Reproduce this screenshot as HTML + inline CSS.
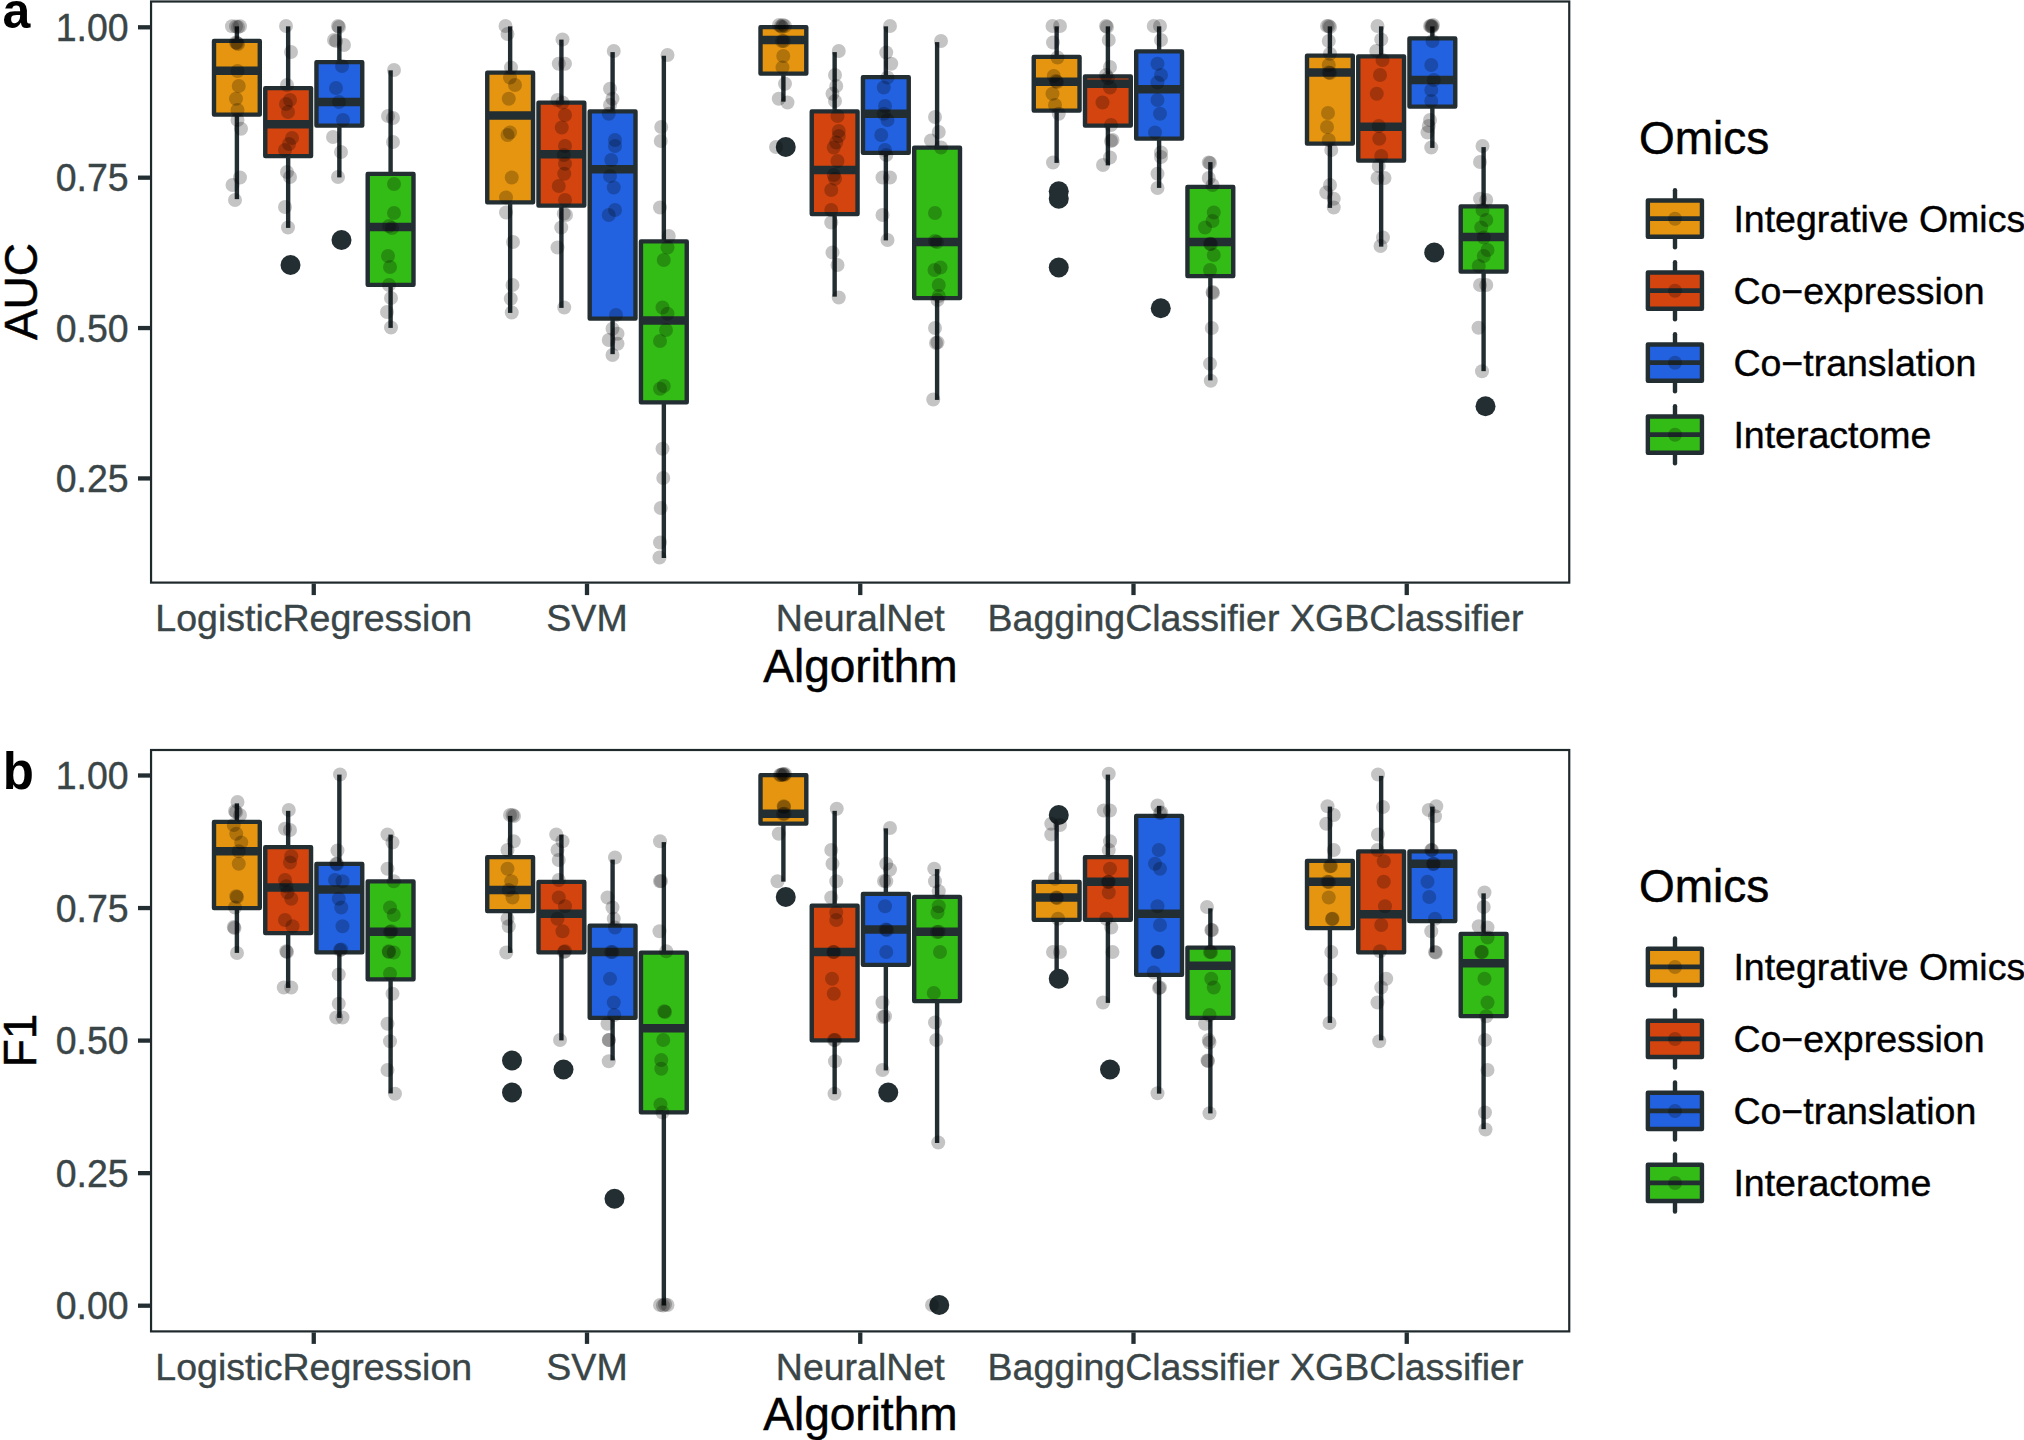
<!DOCTYPE html>
<html lang="en"><head><meta charset="utf-8"><title>Figure</title>
<style>
html,body{margin:0;padding:0;background:#fff;}
svg{display:block;}
text{font-family:"Liberation Sans",Arial,Helvetica,sans-serif;}
.tk{font-size:37.5px;fill:#3a4547;stroke:#3a4547;stroke-width:0.4px;}
.ti{font-size:46px;fill:#000;stroke:#000;stroke-width:0.5px;}
.lg{font-size:37.5px;fill:#000;stroke:#000;stroke-width:0.4px;}
.tag{font-size:51px;font-weight:bold;fill:#000;}
</style></head><body>
<svg width="2024" height="1440" viewBox="0 0 2024 1440">
<rect width="2024" height="1440" fill="#fff"/>

<line x1="236.9" y1="26.35" x2="236.9" y2="40.9" stroke="#232E32" stroke-width="4.4"/>
<line x1="236.9" y1="114.6" x2="236.9" y2="199.15" stroke="#232E32" stroke-width="4.4"/>
<rect x="214" y="40.9" width="45.8" height="73.7" fill="#E5950F" stroke="#232E32" stroke-width="4.4" stroke-linejoin="round"/>
<line x1="214" y1="70.75" x2="259.8" y2="70.75" stroke="#232E32" stroke-width="8.4"/>
<circle cx="290.5" cy="265" r="10" fill="#232E32"/>
<line x1="288.15" y1="26.35" x2="288.15" y2="88.15" stroke="#232E32" stroke-width="4.4"/>
<line x1="288.15" y1="156.1" x2="288.15" y2="227.9" stroke="#232E32" stroke-width="4.4"/>
<rect x="265.25" y="88.15" width="45.8" height="67.95" fill="#D3440F" stroke="#232E32" stroke-width="4.4" stroke-linejoin="round"/>
<line x1="265.25" y1="124.25" x2="311.05" y2="124.25" stroke="#232E32" stroke-width="8.4"/>
<circle cx="341.5" cy="240" r="10" fill="#232E32"/>
<line x1="339.35" y1="26.35" x2="339.35" y2="62.15" stroke="#232E32" stroke-width="4.4"/>
<line x1="339.35" y1="125.6" x2="339.35" y2="177.4" stroke="#232E32" stroke-width="4.4"/>
<rect x="316.45" y="62.15" width="45.8" height="63.45" fill="#2262E0" stroke="#232E32" stroke-width="4.4" stroke-linejoin="round"/>
<line x1="316.45" y1="102" x2="362.25" y2="102" stroke="#232E32" stroke-width="8.4"/>
<line x1="390.6" y1="70.35" x2="390.6" y2="173.9" stroke="#232E32" stroke-width="4.4"/>
<line x1="390.6" y1="284.85" x2="390.6" y2="327.9" stroke="#232E32" stroke-width="4.4"/>
<rect x="367.7" y="173.9" width="45.8" height="110.95" fill="#33BB16" stroke="#232E32" stroke-width="4.4" stroke-linejoin="round"/>
<line x1="367.7" y1="227" x2="413.5" y2="227" stroke="#232E32" stroke-width="8.4"/>
<line x1="510.15" y1="26.35" x2="510.15" y2="72.65" stroke="#232E32" stroke-width="4.4"/>
<line x1="510.15" y1="202.35" x2="510.15" y2="312.9" stroke="#232E32" stroke-width="4.4"/>
<rect x="487.25" y="72.65" width="45.8" height="129.7" fill="#E5950F" stroke="#232E32" stroke-width="4.4" stroke-linejoin="round"/>
<line x1="487.25" y1="115.5" x2="533.05" y2="115.5" stroke="#232E32" stroke-width="8.4"/>
<line x1="561.4" y1="39.6" x2="561.4" y2="102.65" stroke="#232E32" stroke-width="4.4"/>
<line x1="561.4" y1="205.6" x2="561.4" y2="307.9" stroke="#232E32" stroke-width="4.4"/>
<rect x="538.5" y="102.65" width="45.8" height="102.95" fill="#D3440F" stroke="#232E32" stroke-width="4.4" stroke-linejoin="round"/>
<line x1="538.5" y1="154.25" x2="584.3" y2="154.25" stroke="#232E32" stroke-width="8.4"/>
<line x1="612.6" y1="52.1" x2="612.6" y2="111.4" stroke="#232E32" stroke-width="4.4"/>
<line x1="612.6" y1="318.6" x2="612.6" y2="354.15" stroke="#232E32" stroke-width="4.4"/>
<rect x="589.7" y="111.4" width="45.8" height="207.2" fill="#2262E0" stroke="#232E32" stroke-width="4.4" stroke-linejoin="round"/>
<line x1="589.7" y1="169.25" x2="635.5" y2="169.25" stroke="#232E32" stroke-width="8.4"/>
<line x1="663.85" y1="55.85" x2="663.85" y2="241.4" stroke="#232E32" stroke-width="4.4"/>
<line x1="663.85" y1="402.35" x2="663.85" y2="557.9" stroke="#232E32" stroke-width="4.4"/>
<rect x="640.95" y="241.4" width="45.8" height="160.95" fill="#33BB16" stroke="#232E32" stroke-width="4.4" stroke-linejoin="round"/>
<line x1="640.95" y1="320.5" x2="686.75" y2="320.5" stroke="#232E32" stroke-width="8.4"/>
<circle cx="785.75" cy="147" r="10" fill="#232E32"/>
<line x1="783.4" y1="25.75" x2="783.4" y2="27.15" stroke="#232E32" stroke-width="4.4"/>
<line x1="783.4" y1="73.6" x2="783.4" y2="101.65" stroke="#232E32" stroke-width="4.4"/>
<rect x="760.5" y="27.15" width="45.8" height="46.45" fill="#E5950F" stroke="#232E32" stroke-width="4.4" stroke-linejoin="round"/>
<line x1="760.5" y1="40" x2="806.3" y2="40" stroke="#232E32" stroke-width="8.4"/>
<line x1="834.65" y1="52.1" x2="834.65" y2="111.4" stroke="#232E32" stroke-width="4.4"/>
<line x1="834.65" y1="214.1" x2="834.65" y2="296.65" stroke="#232E32" stroke-width="4.4"/>
<rect x="811.75" y="111.4" width="45.8" height="102.7" fill="#D3440F" stroke="#232E32" stroke-width="4.4" stroke-linejoin="round"/>
<line x1="811.75" y1="170" x2="857.55" y2="170" stroke="#232E32" stroke-width="8.4"/>
<line x1="885.85" y1="26.35" x2="885.85" y2="77.15" stroke="#232E32" stroke-width="4.4"/>
<line x1="885.85" y1="152.85" x2="885.85" y2="240.4" stroke="#232E32" stroke-width="4.4"/>
<rect x="862.95" y="77.15" width="45.8" height="75.7" fill="#2262E0" stroke="#232E32" stroke-width="4.4" stroke-linejoin="round"/>
<line x1="862.95" y1="113.75" x2="908.75" y2="113.75" stroke="#232E32" stroke-width="8.4"/>
<line x1="937.1" y1="42.1" x2="937.1" y2="147.65" stroke="#232E32" stroke-width="4.4"/>
<line x1="937.1" y1="298.1" x2="937.1" y2="399.9" stroke="#232E32" stroke-width="4.4"/>
<rect x="914.2" y="147.65" width="45.8" height="150.45" fill="#33BB16" stroke="#232E32" stroke-width="4.4" stroke-linejoin="round"/>
<line x1="914.2" y1="242" x2="960" y2="242" stroke="#232E32" stroke-width="8.4"/>
<circle cx="1058.75" cy="191.25" r="10" fill="#232E32"/>
<circle cx="1058.75" cy="198.75" r="10" fill="#232E32"/>
<circle cx="1058.75" cy="267.5" r="10" fill="#232E32"/>
<line x1="1056.65" y1="26.35" x2="1056.65" y2="56.9" stroke="#232E32" stroke-width="4.4"/>
<line x1="1056.65" y1="110.6" x2="1056.65" y2="162.9" stroke="#232E32" stroke-width="4.4"/>
<rect x="1033.75" y="56.9" width="45.8" height="53.7" fill="#E5950F" stroke="#232E32" stroke-width="4.4" stroke-linejoin="round"/>
<line x1="1033.75" y1="81.75" x2="1079.55" y2="81.75" stroke="#232E32" stroke-width="8.4"/>
<line x1="1107.9" y1="26.35" x2="1107.9" y2="76.4" stroke="#232E32" stroke-width="4.4"/>
<line x1="1107.9" y1="125.6" x2="1107.9" y2="165.4" stroke="#232E32" stroke-width="4.4"/>
<rect x="1085" y="76.4" width="45.8" height="49.2" fill="#D3440F" stroke="#232E32" stroke-width="4.4" stroke-linejoin="round"/>
<line x1="1085" y1="83.75" x2="1130.8" y2="83.75" stroke="#232E32" stroke-width="8.4"/>
<circle cx="1160.75" cy="308.25" r="10" fill="#232E32"/>
<line x1="1159.1" y1="26.35" x2="1159.1" y2="51.4" stroke="#232E32" stroke-width="4.4"/>
<line x1="1159.1" y1="138.6" x2="1159.1" y2="187.9" stroke="#232E32" stroke-width="4.4"/>
<rect x="1136.2" y="51.4" width="45.8" height="87.2" fill="#2262E0" stroke="#232E32" stroke-width="4.4" stroke-linejoin="round"/>
<line x1="1136.2" y1="89.25" x2="1182" y2="89.25" stroke="#232E32" stroke-width="8.4"/>
<line x1="1210.35" y1="162.1" x2="1210.35" y2="186.9" stroke="#232E32" stroke-width="4.4"/>
<line x1="1210.35" y1="276.1" x2="1210.35" y2="380.4" stroke="#232E32" stroke-width="4.4"/>
<rect x="1187.45" y="186.9" width="45.8" height="89.2" fill="#33BB16" stroke="#232E32" stroke-width="4.4" stroke-linejoin="round"/>
<line x1="1187.45" y1="242" x2="1233.25" y2="242" stroke="#232E32" stroke-width="8.4"/>
<line x1="1329.9" y1="26.35" x2="1329.9" y2="55.65" stroke="#232E32" stroke-width="4.4"/>
<line x1="1329.9" y1="143.6" x2="1329.9" y2="207.9" stroke="#232E32" stroke-width="4.4"/>
<rect x="1307" y="55.65" width="45.8" height="87.95" fill="#E5950F" stroke="#232E32" stroke-width="4.4" stroke-linejoin="round"/>
<line x1="1307" y1="72.5" x2="1352.8" y2="72.5" stroke="#232E32" stroke-width="8.4"/>
<line x1="1381.15" y1="26.35" x2="1381.15" y2="56.4" stroke="#232E32" stroke-width="4.4"/>
<line x1="1381.15" y1="160.6" x2="1381.15" y2="246.65" stroke="#232E32" stroke-width="4.4"/>
<rect x="1358.25" y="56.4" width="45.8" height="104.2" fill="#D3440F" stroke="#232E32" stroke-width="4.4" stroke-linejoin="round"/>
<line x1="1358.25" y1="126.75" x2="1404.05" y2="126.75" stroke="#232E32" stroke-width="8.4"/>
<circle cx="1434.25" cy="252.5" r="10" fill="#232E32"/>
<line x1="1432.35" y1="26.35" x2="1432.35" y2="38.4" stroke="#232E32" stroke-width="4.4"/>
<line x1="1432.35" y1="106.6" x2="1432.35" y2="147.9" stroke="#232E32" stroke-width="4.4"/>
<rect x="1409.45" y="38.4" width="45.8" height="68.2" fill="#2262E0" stroke="#232E32" stroke-width="4.4" stroke-linejoin="round"/>
<line x1="1409.45" y1="80" x2="1455.25" y2="80" stroke="#232E32" stroke-width="8.4"/>
<circle cx="1485.5" cy="406.25" r="10" fill="#232E32"/>
<line x1="1483.6" y1="147.1" x2="1483.6" y2="206.4" stroke="#232E32" stroke-width="4.4"/>
<line x1="1483.6" y1="271.6" x2="1483.6" y2="371.15" stroke="#232E32" stroke-width="4.4"/>
<rect x="1460.7" y="206.4" width="45.8" height="65.2" fill="#33BB16" stroke="#232E32" stroke-width="4.4" stroke-linejoin="round"/>
<line x1="1460.7" y1="237" x2="1506.5" y2="237" stroke="#232E32" stroke-width="8.4"/>
<g fill="#000" fill-opacity="0.23">
<circle cx="232" cy="26.25" r="7"/>
<circle cx="240" cy="26.25" r="7"/>
<circle cx="236" cy="26.5" r="7"/>
<circle cx="238" cy="27" r="7"/>
<circle cx="236" cy="42.5" r="7"/>
<circle cx="238" cy="44" r="7"/>
<circle cx="237" cy="43" r="7"/>
<circle cx="237.5" cy="71" r="7"/>
<circle cx="238.75" cy="86" r="7"/>
<circle cx="236" cy="98.75" r="7"/>
<circle cx="237.5" cy="110" r="7"/>
<circle cx="237.5" cy="120" r="7"/>
<circle cx="241" cy="128.75" r="7"/>
<circle cx="240" cy="177.5" r="7"/>
<circle cx="232.5" cy="185" r="7"/>
<circle cx="235" cy="200" r="7"/>
<circle cx="286" cy="26" r="7"/>
<circle cx="291" cy="52" r="7"/>
<circle cx="287" cy="85" r="7"/>
<circle cx="290" cy="100" r="7"/>
<circle cx="286" cy="104" r="7"/>
<circle cx="288" cy="112" r="7"/>
<circle cx="292" cy="138" r="7"/>
<circle cx="289" cy="144" r="7"/>
<circle cx="285" cy="150" r="7"/>
<circle cx="287" cy="172" r="7"/>
<circle cx="290" cy="177" r="7"/>
<circle cx="285" cy="207" r="7"/>
<circle cx="288" cy="227.5" r="7"/>
<circle cx="338" cy="26" r="7"/>
<circle cx="339" cy="27" r="7"/>
<circle cx="334" cy="40" r="7"/>
<circle cx="336" cy="41" r="7"/>
<circle cx="344" cy="45" r="7"/>
<circle cx="342" cy="66" r="7"/>
<circle cx="336" cy="88" r="7"/>
<circle cx="339" cy="102" r="7"/>
<circle cx="343" cy="120" r="7"/>
<circle cx="333" cy="137" r="7"/>
<circle cx="341" cy="152" r="7"/>
<circle cx="338" cy="177" r="7"/>
<circle cx="394" cy="70" r="7"/>
<circle cx="388" cy="116" r="7"/>
<circle cx="393" cy="118" r="7"/>
<circle cx="393" cy="142" r="7"/>
<circle cx="394" cy="184" r="7"/>
<circle cx="394" cy="213" r="7"/>
<circle cx="389" cy="226" r="7"/>
<circle cx="392" cy="228" r="7"/>
<circle cx="388" cy="256" r="7"/>
<circle cx="390" cy="267" r="7"/>
<circle cx="389" cy="285" r="7"/>
<circle cx="391" cy="298" r="7"/>
<circle cx="387" cy="312" r="7"/>
<circle cx="391" cy="327.5" r="7"/>
<circle cx="505.5" cy="26" r="7"/>
<circle cx="507.5" cy="34" r="7"/>
<circle cx="511" cy="67.5" r="7"/>
<circle cx="510" cy="77.5" r="7"/>
<circle cx="515" cy="85" r="7"/>
<circle cx="508.75" cy="98.75" r="7"/>
<circle cx="510" cy="132.5" r="7"/>
<circle cx="507.5" cy="135" r="7"/>
<circle cx="511.75" cy="177.5" r="7"/>
<circle cx="506" cy="197.5" r="7"/>
<circle cx="506" cy="212.5" r="7"/>
<circle cx="513" cy="242" r="7"/>
<circle cx="512.5" cy="285" r="7"/>
<circle cx="510.75" cy="298.75" r="7"/>
<circle cx="511.75" cy="312.5" r="7"/>
<circle cx="562.5" cy="39.5" r="7"/>
<circle cx="558.75" cy="63.75" r="7"/>
<circle cx="565" cy="63.75" r="7"/>
<circle cx="557.5" cy="100" r="7"/>
<circle cx="562.5" cy="102.5" r="7"/>
<circle cx="565" cy="115" r="7"/>
<circle cx="561.75" cy="127.5" r="7"/>
<circle cx="565" cy="146" r="7"/>
<circle cx="563.75" cy="155" r="7"/>
<circle cx="565" cy="163.75" r="7"/>
<circle cx="564.25" cy="173.75" r="7"/>
<circle cx="558.75" cy="186" r="7"/>
<circle cx="565" cy="200" r="7"/>
<circle cx="563.75" cy="213.75" r="7"/>
<circle cx="566" cy="215" r="7"/>
<circle cx="561.25" cy="227.5" r="7"/>
<circle cx="557.5" cy="247.5" r="7"/>
<circle cx="564.25" cy="307.5" r="7"/>
<circle cx="613.75" cy="51" r="7"/>
<circle cx="610" cy="88.75" r="7"/>
<circle cx="612.5" cy="98.75" r="7"/>
<circle cx="610" cy="105" r="7"/>
<circle cx="608.75" cy="113.75" r="7"/>
<circle cx="615" cy="140" r="7"/>
<circle cx="615" cy="146" r="7"/>
<circle cx="611.25" cy="160" r="7"/>
<circle cx="610" cy="176" r="7"/>
<circle cx="613.75" cy="187.5" r="7"/>
<circle cx="615" cy="210" r="7"/>
<circle cx="608.75" cy="215" r="7"/>
<circle cx="616" cy="315" r="7"/>
<circle cx="612.5" cy="328.75" r="7"/>
<circle cx="617.5" cy="333.75" r="7"/>
<circle cx="608.75" cy="340" r="7"/>
<circle cx="617.5" cy="343.75" r="7"/>
<circle cx="612.5" cy="355" r="7"/>
<circle cx="667.5" cy="55" r="7"/>
<circle cx="661.25" cy="127" r="7"/>
<circle cx="660.75" cy="141" r="7"/>
<circle cx="660" cy="207.5" r="7"/>
<circle cx="668.75" cy="236" r="7"/>
<circle cx="667.5" cy="247.5" r="7"/>
<circle cx="663.75" cy="260" r="7"/>
<circle cx="662.5" cy="307.5" r="7"/>
<circle cx="667.5" cy="313.75" r="7"/>
<circle cx="666" cy="330" r="7"/>
<circle cx="660" cy="341" r="7"/>
<circle cx="663.75" cy="386" r="7"/>
<circle cx="660" cy="388.75" r="7"/>
<circle cx="662.5" cy="448.75" r="7"/>
<circle cx="663.25" cy="478" r="7"/>
<circle cx="660.75" cy="508" r="7"/>
<circle cx="660" cy="542.5" r="7"/>
<circle cx="659.5" cy="557.5" r="7"/>
<circle cx="779" cy="25" r="7"/>
<circle cx="783" cy="25" r="7"/>
<circle cx="781" cy="26" r="7"/>
<circle cx="785" cy="26" r="7"/>
<circle cx="782" cy="27" r="7"/>
<circle cx="783.75" cy="41" r="7"/>
<circle cx="782" cy="41" r="7"/>
<circle cx="783.25" cy="56" r="7"/>
<circle cx="782.5" cy="67.5" r="7"/>
<circle cx="785" cy="83.75" r="7"/>
<circle cx="778.75" cy="98.75" r="7"/>
<circle cx="787.5" cy="102.5" r="7"/>
<circle cx="776" cy="147" r="7"/>
<circle cx="838.75" cy="51" r="7"/>
<circle cx="835" cy="75" r="7"/>
<circle cx="836.25" cy="86" r="7"/>
<circle cx="832.5" cy="93.75" r="7"/>
<circle cx="835" cy="101" r="7"/>
<circle cx="837.5" cy="116" r="7"/>
<circle cx="838.75" cy="131" r="7"/>
<circle cx="838.75" cy="136" r="7"/>
<circle cx="836.25" cy="142.5" r="7"/>
<circle cx="833.75" cy="147.5" r="7"/>
<circle cx="837.5" cy="161" r="7"/>
<circle cx="833.75" cy="175" r="7"/>
<circle cx="835" cy="178.75" r="7"/>
<circle cx="831.25" cy="190" r="7"/>
<circle cx="831.25" cy="210" r="7"/>
<circle cx="831.25" cy="222.5" r="7"/>
<circle cx="832.5" cy="252.5" r="7"/>
<circle cx="837.5" cy="265" r="7"/>
<circle cx="838.75" cy="297.5" r="7"/>
<circle cx="890" cy="26" r="7"/>
<circle cx="886.25" cy="52.5" r="7"/>
<circle cx="891.25" cy="63.75" r="7"/>
<circle cx="887.5" cy="77.5" r="7"/>
<circle cx="883.75" cy="87.5" r="7"/>
<circle cx="885" cy="106" r="7"/>
<circle cx="883.75" cy="113.75" r="7"/>
<circle cx="887.5" cy="120" r="7"/>
<circle cx="881.25" cy="135" r="7"/>
<circle cx="885" cy="150" r="7"/>
<circle cx="886.25" cy="155" r="7"/>
<circle cx="882.5" cy="177.5" r="7"/>
<circle cx="890" cy="177.5" r="7"/>
<circle cx="882.5" cy="215" r="7"/>
<circle cx="887.5" cy="240" r="7"/>
<circle cx="941" cy="41" r="7"/>
<circle cx="935" cy="117" r="7"/>
<circle cx="938.75" cy="132" r="7"/>
<circle cx="931" cy="140.5" r="7"/>
<circle cx="941" cy="147.5" r="7"/>
<circle cx="935" cy="213" r="7"/>
<circle cx="935" cy="241" r="7"/>
<circle cx="937" cy="242" r="7"/>
<circle cx="934.5" cy="270" r="7"/>
<circle cx="940.5" cy="267.5" r="7"/>
<circle cx="938.75" cy="285" r="7"/>
<circle cx="938.75" cy="296" r="7"/>
<circle cx="937.5" cy="300" r="7"/>
<circle cx="935" cy="328" r="7"/>
<circle cx="937.5" cy="342.5" r="7"/>
<circle cx="936" cy="343" r="7"/>
<circle cx="933.25" cy="399.5" r="7"/>
<circle cx="1052.5" cy="26" r="7"/>
<circle cx="1060" cy="26" r="7"/>
<circle cx="1053" cy="42.5" r="7"/>
<circle cx="1057.5" cy="57.5" r="7"/>
<circle cx="1053.75" cy="76" r="7"/>
<circle cx="1056" cy="81" r="7"/>
<circle cx="1057" cy="82" r="7"/>
<circle cx="1052.5" cy="93.75" r="7"/>
<circle cx="1055" cy="105" r="7"/>
<circle cx="1058.75" cy="113.75" r="7"/>
<circle cx="1053" cy="162.5" r="7"/>
<circle cx="1106" cy="26" r="7"/>
<circle cx="1107" cy="27" r="7"/>
<circle cx="1108.75" cy="40" r="7"/>
<circle cx="1110" cy="67" r="7"/>
<circle cx="1106" cy="75" r="7"/>
<circle cx="1108" cy="78" r="7"/>
<circle cx="1110" cy="87.5" r="7"/>
<circle cx="1102.5" cy="102.5" r="7"/>
<circle cx="1111" cy="125" r="7"/>
<circle cx="1112.5" cy="140" r="7"/>
<circle cx="1111" cy="141" r="7"/>
<circle cx="1110" cy="157.5" r="7"/>
<circle cx="1103" cy="165" r="7"/>
<circle cx="1153.75" cy="26" r="7"/>
<circle cx="1160" cy="26" r="7"/>
<circle cx="1161" cy="40" r="7"/>
<circle cx="1157.5" cy="63.75" r="7"/>
<circle cx="1161" cy="75" r="7"/>
<circle cx="1157.5" cy="82.5" r="7"/>
<circle cx="1157.5" cy="100" r="7"/>
<circle cx="1160" cy="113.75" r="7"/>
<circle cx="1155" cy="132.5" r="7"/>
<circle cx="1161" cy="152.5" r="7"/>
<circle cx="1161" cy="157" r="7"/>
<circle cx="1157.5" cy="173.75" r="7"/>
<circle cx="1157.5" cy="188" r="7"/>
<circle cx="1208.75" cy="162.5" r="7"/>
<circle cx="1210" cy="163" r="7"/>
<circle cx="1208.75" cy="178" r="7"/>
<circle cx="1212.5" cy="185" r="7"/>
<circle cx="1213.75" cy="212.5" r="7"/>
<circle cx="1212.5" cy="221" r="7"/>
<circle cx="1205" cy="227.5" r="7"/>
<circle cx="1210" cy="243.75" r="7"/>
<circle cx="1211" cy="244" r="7"/>
<circle cx="1213.75" cy="255" r="7"/>
<circle cx="1210" cy="270" r="7"/>
<circle cx="1212.5" cy="292" r="7"/>
<circle cx="1213" cy="293" r="7"/>
<circle cx="1211.75" cy="328" r="7"/>
<circle cx="1210" cy="363.75" r="7"/>
<circle cx="1210.75" cy="380.75" r="7"/>
<circle cx="1328.75" cy="26" r="7"/>
<circle cx="1327" cy="26" r="7"/>
<circle cx="1330" cy="27" r="7"/>
<circle cx="1328.75" cy="41" r="7"/>
<circle cx="1330" cy="53.75" r="7"/>
<circle cx="1328.75" cy="65" r="7"/>
<circle cx="1328.75" cy="72.5" r="7"/>
<circle cx="1330" cy="73" r="7"/>
<circle cx="1328" cy="113" r="7"/>
<circle cx="1327" cy="127" r="7"/>
<circle cx="1328.75" cy="140" r="7"/>
<circle cx="1331.25" cy="150" r="7"/>
<circle cx="1330" cy="185" r="7"/>
<circle cx="1326.25" cy="192.5" r="7"/>
<circle cx="1333.75" cy="198.75" r="7"/>
<circle cx="1333.75" cy="207.5" r="7"/>
<circle cx="1377.5" cy="26" r="7"/>
<circle cx="1381.25" cy="39.5" r="7"/>
<circle cx="1376.25" cy="51" r="7"/>
<circle cx="1382.5" cy="60" r="7"/>
<circle cx="1380" cy="75" r="7"/>
<circle cx="1376.75" cy="93.75" r="7"/>
<circle cx="1378.75" cy="126" r="7"/>
<circle cx="1379.25" cy="138.75" r="7"/>
<circle cx="1381.25" cy="156" r="7"/>
<circle cx="1378.75" cy="166" r="7"/>
<circle cx="1377.5" cy="178" r="7"/>
<circle cx="1384.5" cy="178" r="7"/>
<circle cx="1383" cy="237.5" r="7"/>
<circle cx="1380.5" cy="246" r="7"/>
<circle cx="1432" cy="26" r="7"/>
<circle cx="1431" cy="26" r="7"/>
<circle cx="1433" cy="25" r="7"/>
<circle cx="1432" cy="27" r="7"/>
<circle cx="1430" cy="26" r="7"/>
<circle cx="1432.5" cy="41" r="7"/>
<circle cx="1431.25" cy="65" r="7"/>
<circle cx="1433.75" cy="80" r="7"/>
<circle cx="1431.25" cy="90" r="7"/>
<circle cx="1431.25" cy="101" r="7"/>
<circle cx="1430" cy="120" r="7"/>
<circle cx="1428.75" cy="126" r="7"/>
<circle cx="1427.5" cy="132.5" r="7"/>
<circle cx="1431.25" cy="147.5" r="7"/>
<circle cx="1482.5" cy="146" r="7"/>
<circle cx="1480" cy="162" r="7"/>
<circle cx="1480" cy="198.75" r="7"/>
<circle cx="1486.25" cy="200" r="7"/>
<circle cx="1482.5" cy="210" r="7"/>
<circle cx="1486.25" cy="220" r="7"/>
<circle cx="1481.25" cy="227.5" r="7"/>
<circle cx="1483.75" cy="237.5" r="7"/>
<circle cx="1487.5" cy="250" r="7"/>
<circle cx="1483.75" cy="256" r="7"/>
<circle cx="1478.75" cy="266" r="7"/>
<circle cx="1480" cy="285" r="7"/>
<circle cx="1486.25" cy="285" r="7"/>
<circle cx="1478.5" cy="327.75" r="7"/>
<circle cx="1482" cy="371.25" r="7"/>
</g>
<rect x="151.05" y="1.5" width="1418.2" height="581.1" fill="none" stroke="#1F292C" stroke-width="2.2"/>
<line x1="138" y1="27.3" x2="150.5" y2="27.3" stroke="#232E32" stroke-width="4.3"/>
<text transform="translate(128.7,40.9) scale(1,1.035)" text-anchor="end" class="tk">1.00</text>
<line x1="138" y1="177.68" x2="150.5" y2="177.68" stroke="#232E32" stroke-width="4.3"/>
<text transform="translate(128.7,191.28) scale(1,1.035)" text-anchor="end" class="tk">0.75</text>
<line x1="138" y1="328.05" x2="150.5" y2="328.05" stroke="#232E32" stroke-width="4.3"/>
<text transform="translate(128.7,341.65) scale(1,1.035)" text-anchor="end" class="tk">0.50</text>
<line x1="138" y1="478.43" x2="150.5" y2="478.43" stroke="#232E32" stroke-width="4.3"/>
<text transform="translate(128.7,492.03) scale(1,1.035)" text-anchor="end" class="tk">0.25</text>
<line x1="313.75" y1="583.6" x2="313.75" y2="595.1" stroke="#232E32" stroke-width="4.3"/>
<text x="313.75" y="631.25" text-anchor="middle" class="tk">LogisticRegression</text>
<line x1="587" y1="583.6" x2="587" y2="595.1" stroke="#232E32" stroke-width="4.3"/>
<text x="587" y="631.25" text-anchor="middle" class="tk">SVM</text>
<line x1="860.25" y1="583.6" x2="860.25" y2="595.1" stroke="#232E32" stroke-width="4.3"/>
<text x="860.25" y="631.25" text-anchor="middle" class="tk">NeuralNet</text>
<line x1="1133.5" y1="583.6" x2="1133.5" y2="595.1" stroke="#232E32" stroke-width="4.3"/>
<text x="1133.5" y="631.25" text-anchor="middle" class="tk">BaggingClassifier</text>
<line x1="1406.75" y1="583.6" x2="1406.75" y2="595.1" stroke="#232E32" stroke-width="4.3"/>
<text x="1406.75" y="631.25" text-anchor="middle" class="tk">XGBClassifier</text>
<text x="860.4" y="682" text-anchor="middle" class="ti">Algorithm</text>
<text transform="translate(37,291.5) rotate(-90)" text-anchor="middle" class="ti">AUC</text>
<text x="2.6" y="27.8" class="tag" style="font-size:50px">a</text>
<text x="1639" y="153.75" class="ti">Omics</text>
<line x1="1675" y1="190.15" x2="1675" y2="247.35" stroke="#232E32" stroke-width="4.4" stroke-linecap="round"/>
<rect x="1647.85" y="200.55" width="54.1" height="36.2" fill="#E5950F" stroke="#232E32" stroke-width="4.4" stroke-linejoin="round"/>
<line x1="1648" y1="218.65" x2="1702" y2="218.65" stroke="#232E32" stroke-width="4.6"/>
<circle cx="1675" cy="218.75" r="7" fill="#000" fill-opacity="0.23"/>
<text x="1733.4" y="231.75" class="lg">Integrative Omics</text>
<line x1="1675" y1="262.15" x2="1675" y2="319.35" stroke="#232E32" stroke-width="4.4" stroke-linecap="round"/>
<rect x="1647.85" y="272.55" width="54.1" height="36.2" fill="#D3440F" stroke="#232E32" stroke-width="4.4" stroke-linejoin="round"/>
<line x1="1648" y1="290.65" x2="1702" y2="290.65" stroke="#232E32" stroke-width="4.6"/>
<circle cx="1675" cy="290.75" r="7" fill="#000" fill-opacity="0.23"/>
<text x="1733.4" y="303.75" class="lg">Co−expression</text>
<line x1="1675" y1="334.15" x2="1675" y2="391.35" stroke="#232E32" stroke-width="4.4" stroke-linecap="round"/>
<rect x="1647.85" y="344.55" width="54.1" height="36.2" fill="#2262E0" stroke="#232E32" stroke-width="4.4" stroke-linejoin="round"/>
<line x1="1648" y1="362.65" x2="1702" y2="362.65" stroke="#232E32" stroke-width="4.6"/>
<circle cx="1675" cy="362.75" r="7" fill="#000" fill-opacity="0.23"/>
<text x="1733.4" y="375.75" class="lg">Co−translation</text>
<line x1="1675" y1="406.15" x2="1675" y2="463.35" stroke="#232E32" stroke-width="4.4" stroke-linecap="round"/>
<rect x="1647.85" y="416.55" width="54.1" height="36.2" fill="#33BB16" stroke="#232E32" stroke-width="4.4" stroke-linejoin="round"/>
<line x1="1648" y1="434.65" x2="1702" y2="434.65" stroke="#232E32" stroke-width="4.6"/>
<circle cx="1675" cy="434.75" r="7" fill="#000" fill-opacity="0.23"/>
<text x="1733.4" y="447.75" class="lg">Interactome</text>
<line x1="236.9" y1="803.35" x2="236.9" y2="821.9" stroke="#232E32" stroke-width="4.4"/>
<line x1="236.9" y1="908.1" x2="236.9" y2="952.9" stroke="#232E32" stroke-width="4.4"/>
<rect x="214" y="821.9" width="45.8" height="86.2" fill="#E5950F" stroke="#232E32" stroke-width="4.4" stroke-linejoin="round"/>
<line x1="214" y1="851.25" x2="259.8" y2="851.25" stroke="#232E32" stroke-width="8.4"/>
<line x1="288.15" y1="810.85" x2="288.15" y2="847.15" stroke="#232E32" stroke-width="4.4"/>
<line x1="288.15" y1="933.1" x2="288.15" y2="987.9" stroke="#232E32" stroke-width="4.4"/>
<rect x="265.25" y="847.15" width="45.8" height="85.95" fill="#D3440F" stroke="#232E32" stroke-width="4.4" stroke-linejoin="round"/>
<line x1="265.25" y1="887.5" x2="311.05" y2="887.5" stroke="#232E32" stroke-width="8.4"/>
<line x1="339.35" y1="774.6" x2="339.35" y2="863.9" stroke="#232E32" stroke-width="4.4"/>
<line x1="339.35" y1="952.35" x2="339.35" y2="1017.9" stroke="#232E32" stroke-width="4.4"/>
<rect x="316.45" y="863.9" width="45.8" height="88.45" fill="#2262E0" stroke="#232E32" stroke-width="4.4" stroke-linejoin="round"/>
<line x1="316.45" y1="889.5" x2="362.25" y2="889.5" stroke="#232E32" stroke-width="8.4"/>
<line x1="390.6" y1="834.6" x2="390.6" y2="881.4" stroke="#232E32" stroke-width="4.4"/>
<line x1="390.6" y1="979.35" x2="390.6" y2="1093.4" stroke="#232E32" stroke-width="4.4"/>
<rect x="367.7" y="881.4" width="45.8" height="97.95" fill="#33BB16" stroke="#232E32" stroke-width="4.4" stroke-linejoin="round"/>
<line x1="367.7" y1="931.75" x2="413.5" y2="931.75" stroke="#232E32" stroke-width="8.4"/>
<circle cx="512" cy="1060.5" r="10" fill="#232E32"/>
<circle cx="512" cy="1092.5" r="10" fill="#232E32"/>
<line x1="510.15" y1="815.85" x2="510.15" y2="857.15" stroke="#232E32" stroke-width="4.4"/>
<line x1="510.15" y1="911.1" x2="510.15" y2="952.9" stroke="#232E32" stroke-width="4.4"/>
<rect x="487.25" y="857.15" width="45.8" height="53.95" fill="#E5950F" stroke="#232E32" stroke-width="4.4" stroke-linejoin="round"/>
<line x1="487.25" y1="890" x2="533.05" y2="890" stroke="#232E32" stroke-width="8.4"/>
<circle cx="563.5" cy="1069.5" r="10" fill="#232E32"/>
<line x1="561.4" y1="834.6" x2="561.4" y2="881.9" stroke="#232E32" stroke-width="4.4"/>
<line x1="561.4" y1="952.35" x2="561.4" y2="1040.4" stroke="#232E32" stroke-width="4.4"/>
<rect x="538.5" y="881.9" width="45.8" height="70.45" fill="#D3440F" stroke="#232E32" stroke-width="4.4" stroke-linejoin="round"/>
<line x1="538.5" y1="913.75" x2="584.3" y2="913.75" stroke="#232E32" stroke-width="8.4"/>
<circle cx="614.5" cy="1198.75" r="10" fill="#232E32"/>
<line x1="612.6" y1="859.6" x2="612.6" y2="925.65" stroke="#232E32" stroke-width="4.4"/>
<line x1="612.6" y1="1017.85" x2="612.6" y2="1060.4" stroke="#232E32" stroke-width="4.4"/>
<rect x="589.7" y="925.65" width="45.8" height="92.2" fill="#2262E0" stroke="#232E32" stroke-width="4.4" stroke-linejoin="round"/>
<line x1="589.7" y1="952" x2="635.5" y2="952" stroke="#232E32" stroke-width="8.4"/>
<line x1="663.85" y1="842.1" x2="663.85" y2="952.65" stroke="#232E32" stroke-width="4.4"/>
<line x1="663.85" y1="1112.35" x2="663.85" y2="1305.4" stroke="#232E32" stroke-width="4.4"/>
<rect x="640.95" y="952.65" width="45.8" height="159.7" fill="#33BB16" stroke="#232E32" stroke-width="4.4" stroke-linejoin="round"/>
<line x1="640.95" y1="1028.25" x2="686.75" y2="1028.25" stroke="#232E32" stroke-width="8.4"/>
<circle cx="785.75" cy="897" r="10" fill="#232E32"/>
<line x1="783.4" y1="773.75" x2="783.4" y2="775.15" stroke="#232E32" stroke-width="4.4"/>
<line x1="783.4" y1="823.6" x2="783.4" y2="881.65" stroke="#232E32" stroke-width="4.4"/>
<rect x="760.5" y="775.15" width="45.8" height="48.45" fill="#E5950F" stroke="#232E32" stroke-width="4.4" stroke-linejoin="round"/>
<line x1="760.5" y1="813.75" x2="806.3" y2="813.75" stroke="#232E32" stroke-width="8.4"/>
<line x1="834.65" y1="810.85" x2="834.65" y2="905.65" stroke="#232E32" stroke-width="4.4"/>
<line x1="834.65" y1="1040.35" x2="834.65" y2="1094.15" stroke="#232E32" stroke-width="4.4"/>
<rect x="811.75" y="905.65" width="45.8" height="134.7" fill="#D3440F" stroke="#232E32" stroke-width="4.4" stroke-linejoin="round"/>
<line x1="811.75" y1="952" x2="857.55" y2="952" stroke="#232E32" stroke-width="8.4"/>
<circle cx="888.25" cy="1092.5" r="10" fill="#232E32"/>
<line x1="885.85" y1="828.35" x2="885.85" y2="893.9" stroke="#232E32" stroke-width="4.4"/>
<line x1="885.85" y1="964.85" x2="885.85" y2="1070.4" stroke="#232E32" stroke-width="4.4"/>
<rect x="862.95" y="893.9" width="45.8" height="70.95" fill="#2262E0" stroke="#232E32" stroke-width="4.4" stroke-linejoin="round"/>
<line x1="862.95" y1="929.5" x2="908.75" y2="929.5" stroke="#232E32" stroke-width="8.4"/>
<circle cx="939.25" cy="1305" r="10" fill="#232E32"/>
<line x1="937.1" y1="869.1" x2="937.1" y2="896.9" stroke="#232E32" stroke-width="4.4"/>
<line x1="937.1" y1="1001.1" x2="937.1" y2="1142.9" stroke="#232E32" stroke-width="4.4"/>
<rect x="914.2" y="896.9" width="45.8" height="104.2" fill="#33BB16" stroke="#232E32" stroke-width="4.4" stroke-linejoin="round"/>
<line x1="914.2" y1="931.75" x2="960" y2="931.75" stroke="#232E32" stroke-width="8.4"/>
<circle cx="1058.75" cy="815" r="10" fill="#232E32"/>
<circle cx="1058.75" cy="978.75" r="10" fill="#232E32"/>
<line x1="1056.65" y1="819.6" x2="1056.65" y2="881.9" stroke="#232E32" stroke-width="4.4"/>
<line x1="1056.65" y1="919.85" x2="1056.65" y2="975.4" stroke="#232E32" stroke-width="4.4"/>
<rect x="1033.75" y="881.9" width="45.8" height="37.95" fill="#E5950F" stroke="#232E32" stroke-width="4.4" stroke-linejoin="round"/>
<line x1="1033.75" y1="897.5" x2="1079.55" y2="897.5" stroke="#232E32" stroke-width="8.4"/>
<circle cx="1110" cy="1069.5" r="10" fill="#232E32"/>
<line x1="1107.9" y1="774.6" x2="1107.9" y2="857.15" stroke="#232E32" stroke-width="4.4"/>
<line x1="1107.9" y1="919.85" x2="1107.9" y2="1002.9" stroke="#232E32" stroke-width="4.4"/>
<rect x="1085" y="857.15" width="45.8" height="62.7" fill="#D3440F" stroke="#232E32" stroke-width="4.4" stroke-linejoin="round"/>
<line x1="1085" y1="881.75" x2="1130.8" y2="881.75" stroke="#232E32" stroke-width="8.4"/>
<line x1="1159.1" y1="805.85" x2="1159.1" y2="815.9" stroke="#232E32" stroke-width="4.4"/>
<line x1="1159.1" y1="974.85" x2="1159.1" y2="1093.65" stroke="#232E32" stroke-width="4.4"/>
<rect x="1136.2" y="815.9" width="45.8" height="158.95" fill="#2262E0" stroke="#232E32" stroke-width="4.4" stroke-linejoin="round"/>
<line x1="1136.2" y1="913.75" x2="1182" y2="913.75" stroke="#232E32" stroke-width="8.4"/>
<line x1="1210.35" y1="908.35" x2="1210.35" y2="947.65" stroke="#232E32" stroke-width="4.4"/>
<line x1="1210.35" y1="1017.85" x2="1210.35" y2="1113.4" stroke="#232E32" stroke-width="4.4"/>
<rect x="1187.45" y="947.65" width="45.8" height="70.2" fill="#33BB16" stroke="#232E32" stroke-width="4.4" stroke-linejoin="round"/>
<line x1="1187.45" y1="965.75" x2="1233.25" y2="965.75" stroke="#232E32" stroke-width="8.4"/>
<line x1="1329.9" y1="806.6" x2="1329.9" y2="860.9" stroke="#232E32" stroke-width="4.4"/>
<line x1="1329.9" y1="928.1" x2="1329.9" y2="1022.9" stroke="#232E32" stroke-width="4.4"/>
<rect x="1307" y="860.9" width="45.8" height="67.2" fill="#E5950F" stroke="#232E32" stroke-width="4.4" stroke-linejoin="round"/>
<line x1="1307" y1="881.75" x2="1352.8" y2="881.75" stroke="#232E32" stroke-width="8.4"/>
<line x1="1381.15" y1="775.85" x2="1381.15" y2="851.4" stroke="#232E32" stroke-width="4.4"/>
<line x1="1381.15" y1="952.35" x2="1381.15" y2="1040.4" stroke="#232E32" stroke-width="4.4"/>
<rect x="1358.25" y="851.4" width="45.8" height="100.95" fill="#D3440F" stroke="#232E32" stroke-width="4.4" stroke-linejoin="round"/>
<line x1="1358.25" y1="914.25" x2="1404.05" y2="914.25" stroke="#232E32" stroke-width="8.4"/>
<line x1="1432.35" y1="806.6" x2="1432.35" y2="851.4" stroke="#232E32" stroke-width="4.4"/>
<line x1="1432.35" y1="921.1" x2="1432.35" y2="952.4" stroke="#232E32" stroke-width="4.4"/>
<rect x="1409.45" y="851.4" width="45.8" height="69.7" fill="#2262E0" stroke="#232E32" stroke-width="4.4" stroke-linejoin="round"/>
<line x1="1409.45" y1="863.75" x2="1455.25" y2="863.75" stroke="#232E32" stroke-width="8.4"/>
<line x1="1483.6" y1="893.35" x2="1483.6" y2="933.9" stroke="#232E32" stroke-width="4.4"/>
<line x1="1483.6" y1="1016.1" x2="1483.6" y2="1129.15" stroke="#232E32" stroke-width="4.4"/>
<rect x="1460.7" y="933.9" width="45.8" height="82.2" fill="#33BB16" stroke="#232E32" stroke-width="4.4" stroke-linejoin="round"/>
<line x1="1460.7" y1="963.25" x2="1506.5" y2="963.25" stroke="#232E32" stroke-width="8.4"/>
<g fill="#000" fill-opacity="0.23">
<circle cx="237.5" cy="802" r="7"/>
<circle cx="235" cy="811" r="7"/>
<circle cx="236" cy="812" r="7"/>
<circle cx="240" cy="815" r="7"/>
<circle cx="233.75" cy="825" r="7"/>
<circle cx="236.25" cy="833.75" r="7"/>
<circle cx="241.25" cy="842.5" r="7"/>
<circle cx="238.75" cy="851.25" r="7"/>
<circle cx="238.75" cy="863.75" r="7"/>
<circle cx="236.25" cy="896.25" r="7"/>
<circle cx="237" cy="897" r="7"/>
<circle cx="235" cy="907.5" r="7"/>
<circle cx="233.75" cy="927" r="7"/>
<circle cx="234.5" cy="928" r="7"/>
<circle cx="237" cy="953" r="7"/>
<circle cx="288.75" cy="810" r="7"/>
<circle cx="285" cy="828.75" r="7"/>
<circle cx="290" cy="830" r="7"/>
<circle cx="291.25" cy="856.25" r="7"/>
<circle cx="290" cy="862.5" r="7"/>
<circle cx="285" cy="880" r="7"/>
<circle cx="286.25" cy="886.25" r="7"/>
<circle cx="287.5" cy="892.5" r="7"/>
<circle cx="291.25" cy="898.75" r="7"/>
<circle cx="285" cy="920" r="7"/>
<circle cx="292.5" cy="926.25" r="7"/>
<circle cx="286.25" cy="951.25" r="7"/>
<circle cx="287" cy="952" r="7"/>
<circle cx="283.75" cy="987.5" r="7"/>
<circle cx="291.25" cy="987.5" r="7"/>
<circle cx="340" cy="774.5" r="7"/>
<circle cx="337.5" cy="850.5" r="7"/>
<circle cx="336.25" cy="863.75" r="7"/>
<circle cx="337" cy="864" r="7"/>
<circle cx="335" cy="880" r="7"/>
<circle cx="342.5" cy="881.25" r="7"/>
<circle cx="338.75" cy="898.75" r="7"/>
<circle cx="341.25" cy="907.5" r="7"/>
<circle cx="342.5" cy="926.25" r="7"/>
<circle cx="341.25" cy="949.5" r="7"/>
<circle cx="340" cy="950" r="7"/>
<circle cx="338.75" cy="974.5" r="7"/>
<circle cx="338.75" cy="1003.75" r="7"/>
<circle cx="336.25" cy="1017.5" r="7"/>
<circle cx="342.5" cy="1017.5" r="7"/>
<circle cx="387.5" cy="834.5" r="7"/>
<circle cx="392.5" cy="842.5" r="7"/>
<circle cx="387.5" cy="868.75" r="7"/>
<circle cx="393.75" cy="881.25" r="7"/>
<circle cx="390" cy="907.5" r="7"/>
<circle cx="393.75" cy="915" r="7"/>
<circle cx="391.25" cy="931.25" r="7"/>
<circle cx="390" cy="932" r="7"/>
<circle cx="388.75" cy="951.25" r="7"/>
<circle cx="389" cy="952" r="7"/>
<circle cx="393.75" cy="952.5" r="7"/>
<circle cx="390" cy="973.75" r="7"/>
<circle cx="392.5" cy="993.75" r="7"/>
<circle cx="387.5" cy="1023.75" r="7"/>
<circle cx="390" cy="1041.25" r="7"/>
<circle cx="387.5" cy="1070" r="7"/>
<circle cx="395" cy="1093.75" r="7"/>
<circle cx="512.5" cy="815" r="7"/>
<circle cx="510" cy="815" r="7"/>
<circle cx="514" cy="816" r="7"/>
<circle cx="513.75" cy="841.25" r="7"/>
<circle cx="507.5" cy="850" r="7"/>
<circle cx="507.5" cy="868.75" r="7"/>
<circle cx="511.25" cy="881.25" r="7"/>
<circle cx="508.75" cy="890" r="7"/>
<circle cx="512.5" cy="897.5" r="7"/>
<circle cx="507.5" cy="918.75" r="7"/>
<circle cx="508.75" cy="926.25" r="7"/>
<circle cx="506.25" cy="952.5" r="7"/>
<circle cx="556.25" cy="834.5" r="7"/>
<circle cx="562.5" cy="841.25" r="7"/>
<circle cx="557.5" cy="850" r="7"/>
<circle cx="558.75" cy="860" r="7"/>
<circle cx="558.75" cy="880" r="7"/>
<circle cx="558.75" cy="897.5" r="7"/>
<circle cx="565" cy="906.25" r="7"/>
<circle cx="557.5" cy="918.75" r="7"/>
<circle cx="562.5" cy="931.25" r="7"/>
<circle cx="565" cy="951.25" r="7"/>
<circle cx="564" cy="952" r="7"/>
<circle cx="560" cy="1040" r="7"/>
<circle cx="615" cy="857.5" r="7"/>
<circle cx="607.5" cy="897.5" r="7"/>
<circle cx="612.5" cy="907.5" r="7"/>
<circle cx="613.75" cy="918.75" r="7"/>
<circle cx="615" cy="927.5" r="7"/>
<circle cx="612.5" cy="952" r="7"/>
<circle cx="611" cy="952" r="7"/>
<circle cx="610" cy="978.75" r="7"/>
<circle cx="613.75" cy="1002.5" r="7"/>
<circle cx="614.25" cy="1015" r="7"/>
<circle cx="607.5" cy="1023.75" r="7"/>
<circle cx="608.75" cy="1040" r="7"/>
<circle cx="609" cy="1040" r="7"/>
<circle cx="608.75" cy="1061.25" r="7"/>
<circle cx="660" cy="841.25" r="7"/>
<circle cx="660" cy="881.25" r="7"/>
<circle cx="661" cy="881" r="7"/>
<circle cx="659.5" cy="931.25" r="7"/>
<circle cx="666.25" cy="951.25" r="7"/>
<circle cx="664.25" cy="1011.25" r="7"/>
<circle cx="665" cy="1012" r="7"/>
<circle cx="663.25" cy="1040" r="7"/>
<circle cx="661.25" cy="1060" r="7"/>
<circle cx="661.25" cy="1068.75" r="7"/>
<circle cx="660.5" cy="1104.5" r="7"/>
<circle cx="662.5" cy="1112.5" r="7"/>
<circle cx="660" cy="1305" r="7"/>
<circle cx="667.5" cy="1305" r="7"/>
<circle cx="663" cy="1305.5" r="7"/>
<circle cx="665" cy="1304.5" r="7"/>
<circle cx="782.5" cy="774.5" r="7"/>
<circle cx="781" cy="775" r="7"/>
<circle cx="784" cy="775" r="7"/>
<circle cx="783" cy="774" r="7"/>
<circle cx="780" cy="775" r="7"/>
<circle cx="785" cy="774" r="7"/>
<circle cx="783.75" cy="806.25" r="7"/>
<circle cx="784" cy="807" r="7"/>
<circle cx="784.5" cy="813.75" r="7"/>
<circle cx="783" cy="814" r="7"/>
<circle cx="778.75" cy="833.75" r="7"/>
<circle cx="777.5" cy="881.25" r="7"/>
<circle cx="836.75" cy="808.75" r="7"/>
<circle cx="831.25" cy="850" r="7"/>
<circle cx="832.5" cy="863.75" r="7"/>
<circle cx="836.25" cy="881.25" r="7"/>
<circle cx="831.25" cy="897.5" r="7"/>
<circle cx="836.25" cy="912.5" r="7"/>
<circle cx="836.25" cy="920" r="7"/>
<circle cx="833.25" cy="952" r="7"/>
<circle cx="834" cy="952" r="7"/>
<circle cx="832" cy="978.75" r="7"/>
<circle cx="833.75" cy="993.75" r="7"/>
<circle cx="835" cy="1040" r="7"/>
<circle cx="834" cy="1040" r="7"/>
<circle cx="835" cy="1061.25" r="7"/>
<circle cx="834.5" cy="1093.75" r="7"/>
<circle cx="890" cy="828" r="7"/>
<circle cx="886.25" cy="863.75" r="7"/>
<circle cx="890" cy="869.5" r="7"/>
<circle cx="886.25" cy="881.25" r="7"/>
<circle cx="884" cy="881" r="7"/>
<circle cx="885" cy="906.25" r="7"/>
<circle cx="885.75" cy="929.5" r="7"/>
<circle cx="887" cy="930" r="7"/>
<circle cx="886.25" cy="952" r="7"/>
<circle cx="882.5" cy="1002.5" r="7"/>
<circle cx="885" cy="1016.25" r="7"/>
<circle cx="883" cy="1017" r="7"/>
<circle cx="882.5" cy="1070" r="7"/>
<circle cx="934.25" cy="868.75" r="7"/>
<circle cx="935" cy="881.25" r="7"/>
<circle cx="938.75" cy="891.25" r="7"/>
<circle cx="938.75" cy="906.25" r="7"/>
<circle cx="937.5" cy="912.5" r="7"/>
<circle cx="938.75" cy="931.75" r="7"/>
<circle cx="937" cy="932" r="7"/>
<circle cx="940" cy="952" r="7"/>
<circle cx="933.75" cy="993" r="7"/>
<circle cx="935" cy="1022.5" r="7"/>
<circle cx="936.25" cy="1040" r="7"/>
<circle cx="938.25" cy="1142.5" r="7"/>
<circle cx="932" cy="1305" r="7"/>
<circle cx="1051.25" cy="823.75" r="7"/>
<circle cx="1060" cy="825" r="7"/>
<circle cx="1051.25" cy="834.5" r="7"/>
<circle cx="1055" cy="878.75" r="7"/>
<circle cx="1056.25" cy="897.5" r="7"/>
<circle cx="1057" cy="898" r="7"/>
<circle cx="1058" cy="918.75" r="7"/>
<circle cx="1053" cy="952" r="7"/>
<circle cx="1060" cy="952" r="7"/>
<circle cx="1108.75" cy="773.75" r="7"/>
<circle cx="1103.75" cy="810.5" r="7"/>
<circle cx="1110" cy="810.5" r="7"/>
<circle cx="1110" cy="841.25" r="7"/>
<circle cx="1108.75" cy="850" r="7"/>
<circle cx="1110" cy="868.75" r="7"/>
<circle cx="1108.75" cy="881.75" r="7"/>
<circle cx="1108" cy="882" r="7"/>
<circle cx="1108.75" cy="892.5" r="7"/>
<circle cx="1106.25" cy="918.75" r="7"/>
<circle cx="1111.25" cy="927.5" r="7"/>
<circle cx="1112.5" cy="952" r="7"/>
<circle cx="1103" cy="1002.5" r="7"/>
<circle cx="1157.5" cy="805.5" r="7"/>
<circle cx="1161.25" cy="812.5" r="7"/>
<circle cx="1160" cy="813" r="7"/>
<circle cx="1158.75" cy="850" r="7"/>
<circle cx="1155" cy="863.75" r="7"/>
<circle cx="1160" cy="868.75" r="7"/>
<circle cx="1157.5" cy="906.25" r="7"/>
<circle cx="1160" cy="925" r="7"/>
<circle cx="1157.5" cy="952" r="7"/>
<circle cx="1158" cy="952" r="7"/>
<circle cx="1153.75" cy="972.5" r="7"/>
<circle cx="1160" cy="987.5" r="7"/>
<circle cx="1159" cy="988" r="7"/>
<circle cx="1157.5" cy="1093.25" r="7"/>
<circle cx="1207" cy="907" r="7"/>
<circle cx="1211.25" cy="930" r="7"/>
<circle cx="1212" cy="930" r="7"/>
<circle cx="1210" cy="952" r="7"/>
<circle cx="1211" cy="952" r="7"/>
<circle cx="1211.25" cy="978.75" r="7"/>
<circle cx="1213.75" cy="987.5" r="7"/>
<circle cx="1209.5" cy="1015" r="7"/>
<circle cx="1205" cy="1023.75" r="7"/>
<circle cx="1208.75" cy="1040" r="7"/>
<circle cx="1209.5" cy="1042.5" r="7"/>
<circle cx="1207.5" cy="1060.5" r="7"/>
<circle cx="1208" cy="1061" r="7"/>
<circle cx="1209.5" cy="1113.25" r="7"/>
<circle cx="1327.5" cy="806.25" r="7"/>
<circle cx="1333.75" cy="815" r="7"/>
<circle cx="1326.25" cy="823.75" r="7"/>
<circle cx="1333.75" cy="850" r="7"/>
<circle cx="1330" cy="866.25" r="7"/>
<circle cx="1331" cy="866" r="7"/>
<circle cx="1327.5" cy="881.75" r="7"/>
<circle cx="1329" cy="882" r="7"/>
<circle cx="1328.75" cy="897.5" r="7"/>
<circle cx="1332.5" cy="918.75" r="7"/>
<circle cx="1332" cy="919" r="7"/>
<circle cx="1331.25" cy="952" r="7"/>
<circle cx="1330.5" cy="979.5" r="7"/>
<circle cx="1329.5" cy="1023" r="7"/>
<circle cx="1378" cy="774.5" r="7"/>
<circle cx="1383" cy="807" r="7"/>
<circle cx="1378" cy="834.5" r="7"/>
<circle cx="1377.5" cy="850" r="7"/>
<circle cx="1383.75" cy="861.25" r="7"/>
<circle cx="1383.75" cy="881.75" r="7"/>
<circle cx="1385" cy="906.25" r="7"/>
<circle cx="1381.25" cy="925" r="7"/>
<circle cx="1380" cy="951.25" r="7"/>
<circle cx="1386.25" cy="978.75" r="7"/>
<circle cx="1381.25" cy="987.5" r="7"/>
<circle cx="1377.5" cy="1002.5" r="7"/>
<circle cx="1379.25" cy="1041.25" r="7"/>
<circle cx="1428.75" cy="810" r="7"/>
<circle cx="1436.25" cy="806.25" r="7"/>
<circle cx="1435" cy="816.25" r="7"/>
<circle cx="1431.25" cy="850" r="7"/>
<circle cx="1432" cy="850" r="7"/>
<circle cx="1433.75" cy="863.75" r="7"/>
<circle cx="1433" cy="864" r="7"/>
<circle cx="1427.5" cy="881.75" r="7"/>
<circle cx="1429.25" cy="897" r="7"/>
<circle cx="1435" cy="918.75" r="7"/>
<circle cx="1431.25" cy="931.25" r="7"/>
<circle cx="1435.75" cy="952.5" r="7"/>
<circle cx="1435" cy="952" r="7"/>
<circle cx="1484.5" cy="892.5" r="7"/>
<circle cx="1483.75" cy="907" r="7"/>
<circle cx="1478.75" cy="926.25" r="7"/>
<circle cx="1487.5" cy="927.5" r="7"/>
<circle cx="1487.5" cy="937.5" r="7"/>
<circle cx="1481.25" cy="952" r="7"/>
<circle cx="1482" cy="952" r="7"/>
<circle cx="1484.5" cy="978.75" r="7"/>
<circle cx="1487.5" cy="1002.5" r="7"/>
<circle cx="1486.25" cy="1016.25" r="7"/>
<circle cx="1485" cy="1040" r="7"/>
<circle cx="1487.5" cy="1070" r="7"/>
<circle cx="1485" cy="1112.5" r="7"/>
<circle cx="1485.5" cy="1129.5" r="7"/>
</g>
<rect x="151.05" y="750" width="1418.2" height="581.4" fill="none" stroke="#1F292C" stroke-width="2.2"/>
<line x1="138" y1="775.5" x2="150.5" y2="775.5" stroke="#232E32" stroke-width="4.3"/>
<text transform="translate(128.7,789.1) scale(1,1.035)" text-anchor="end" class="tk">1.00</text>
<line x1="138" y1="908.05" x2="150.5" y2="908.05" stroke="#232E32" stroke-width="4.3"/>
<text transform="translate(128.7,921.65) scale(1,1.035)" text-anchor="end" class="tk">0.75</text>
<line x1="138" y1="1040.6" x2="150.5" y2="1040.6" stroke="#232E32" stroke-width="4.3"/>
<text transform="translate(128.7,1054.2) scale(1,1.035)" text-anchor="end" class="tk">0.50</text>
<line x1="138" y1="1173.15" x2="150.5" y2="1173.15" stroke="#232E32" stroke-width="4.3"/>
<text transform="translate(128.7,1186.75) scale(1,1.035)" text-anchor="end" class="tk">0.25</text>
<line x1="138" y1="1305.7" x2="150.5" y2="1305.7" stroke="#232E32" stroke-width="4.3"/>
<text transform="translate(128.7,1319.3) scale(1,1.035)" text-anchor="end" class="tk">0.00</text>
<line x1="313.75" y1="1332.4" x2="313.75" y2="1343.9" stroke="#232E32" stroke-width="4.3"/>
<text x="313.75" y="1379.75" text-anchor="middle" class="tk">LogisticRegression</text>
<line x1="587" y1="1332.4" x2="587" y2="1343.9" stroke="#232E32" stroke-width="4.3"/>
<text x="587" y="1379.75" text-anchor="middle" class="tk">SVM</text>
<line x1="860.25" y1="1332.4" x2="860.25" y2="1343.9" stroke="#232E32" stroke-width="4.3"/>
<text x="860.25" y="1379.75" text-anchor="middle" class="tk">NeuralNet</text>
<line x1="1133.5" y1="1332.4" x2="1133.5" y2="1343.9" stroke="#232E32" stroke-width="4.3"/>
<text x="1133.5" y="1379.75" text-anchor="middle" class="tk">BaggingClassifier</text>
<line x1="1406.75" y1="1332.4" x2="1406.75" y2="1343.9" stroke="#232E32" stroke-width="4.3"/>
<text x="1406.75" y="1379.75" text-anchor="middle" class="tk">XGBClassifier</text>
<text x="860.4" y="1430" text-anchor="middle" class="ti">Algorithm</text>
<text transform="translate(36,1040.5) rotate(-90)" text-anchor="middle" class="ti">F1</text>
<text x="2.8" y="788.8" class="tag">b</text>
<text x="1639" y="902" class="ti">Omics</text>
<line x1="1675" y1="938.4" x2="1675" y2="995.6" stroke="#232E32" stroke-width="4.4" stroke-linecap="round"/>
<rect x="1647.85" y="948.8" width="54.1" height="36.2" fill="#E5950F" stroke="#232E32" stroke-width="4.4" stroke-linejoin="round"/>
<line x1="1648" y1="966.9" x2="1702" y2="966.9" stroke="#232E32" stroke-width="4.6"/>
<circle cx="1675" cy="967" r="7" fill="#000" fill-opacity="0.23"/>
<text x="1733.4" y="980" class="lg">Integrative Omics</text>
<line x1="1675" y1="1010.4" x2="1675" y2="1067.6" stroke="#232E32" stroke-width="4.4" stroke-linecap="round"/>
<rect x="1647.85" y="1020.8" width="54.1" height="36.2" fill="#D3440F" stroke="#232E32" stroke-width="4.4" stroke-linejoin="round"/>
<line x1="1648" y1="1038.9" x2="1702" y2="1038.9" stroke="#232E32" stroke-width="4.6"/>
<circle cx="1675" cy="1039" r="7" fill="#000" fill-opacity="0.23"/>
<text x="1733.4" y="1052" class="lg">Co−expression</text>
<line x1="1675" y1="1082.4" x2="1675" y2="1139.6" stroke="#232E32" stroke-width="4.4" stroke-linecap="round"/>
<rect x="1647.85" y="1092.8" width="54.1" height="36.2" fill="#2262E0" stroke="#232E32" stroke-width="4.4" stroke-linejoin="round"/>
<line x1="1648" y1="1110.9" x2="1702" y2="1110.9" stroke="#232E32" stroke-width="4.6"/>
<circle cx="1675" cy="1111" r="7" fill="#000" fill-opacity="0.23"/>
<text x="1733.4" y="1124" class="lg">Co−translation</text>
<line x1="1675" y1="1154.4" x2="1675" y2="1211.6" stroke="#232E32" stroke-width="4.4" stroke-linecap="round"/>
<rect x="1647.85" y="1164.8" width="54.1" height="36.2" fill="#33BB16" stroke="#232E32" stroke-width="4.4" stroke-linejoin="round"/>
<line x1="1648" y1="1182.9" x2="1702" y2="1182.9" stroke="#232E32" stroke-width="4.6"/>
<circle cx="1675" cy="1183" r="7" fill="#000" fill-opacity="0.23"/>
<text x="1733.4" y="1196" class="lg">Interactome</text>
</svg></body></html>
